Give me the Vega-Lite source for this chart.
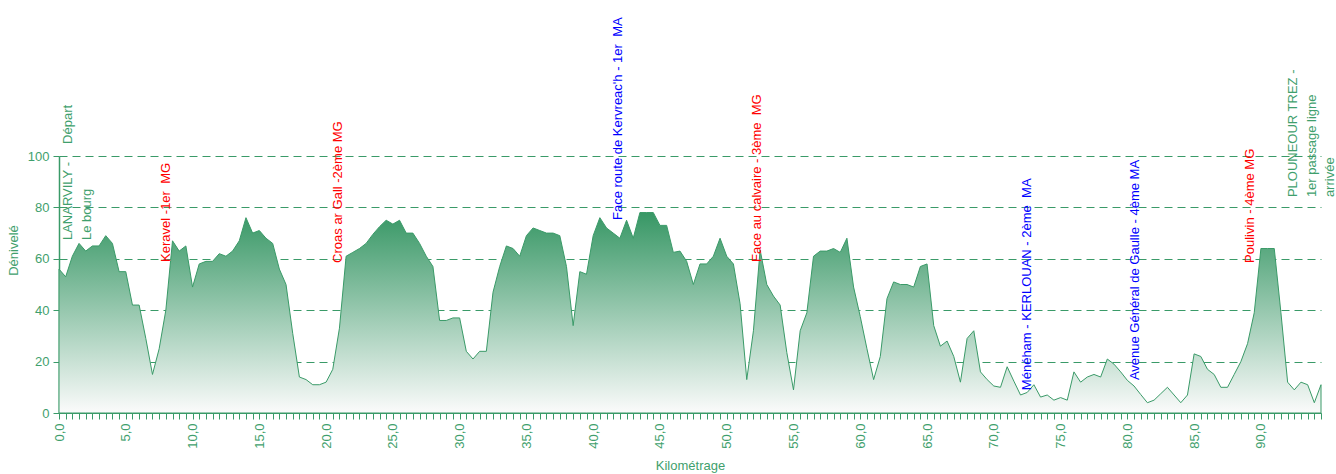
{
  "$schema": "https://vega.github.io/schema/vega-lite/v6.json",
  "autosize": "none",
  "width": 1262,
  "height": 257,
  "padding": {"left": 59, "top": 156, "right": 15, "bottom": 61},
  "config": {
    "view": {"stroke": null},
    "font": "Liberation Sans",
    "axis": {
      "labelFont": "Liberation Sans",
      "titleFont": "Liberation Sans",
      "labelFontSize": 13,
      "titleFontSize": 13,
      "titleFontWeight": "normal",
      "labelColor": "#3f9f6d",
      "titleColor": "#3f9f6d",
      "domainColor": "#3a9a68",
      "tickColor": "#3a9a68"
    }
  },
  "datasets": {
    "profil": [
      {"km": 0, "alt": 56}, {"km": 0.5, "alt": 53}, {"km": 1, "alt": 61}, {"km": 1.5, "alt": 66},
      {"km": 2, "alt": 63}, {"km": 2.5, "alt": 65}, {"km": 3, "alt": 65}, {"km": 3.5, "alt": 69},
      {"km": 4, "alt": 66}, {"km": 4.5, "alt": 55}, {"km": 5, "alt": 55}, {"km": 5.5, "alt": 42},
      {"km": 6, "alt": 42}, {"km": 6.5, "alt": 29}, {"km": 7, "alt": 15}, {"km": 7.5, "alt": 25},
      {"km": 8, "alt": 40}, {"km": 8.5, "alt": 67}, {"km": 9, "alt": 63}, {"km": 9.5, "alt": 65},
      {"km": 10, "alt": 49}, {"km": 10.5, "alt": 58}, {"km": 11, "alt": 59}, {"km": 11.5, "alt": 59},
      {"km": 12, "alt": 62}, {"km": 12.5, "alt": 61}, {"km": 13, "alt": 63}, {"km": 13.5, "alt": 67},
      {"km": 14, "alt": 76}, {"km": 14.5, "alt": 70}, {"km": 15, "alt": 71}, {"km": 15.5, "alt": 68},
      {"km": 16, "alt": 66}, {"km": 16.5, "alt": 56}, {"km": 17, "alt": 50}, {"km": 17.5, "alt": 31},
      {"km": 18, "alt": 14}, {"km": 18.5, "alt": 13}, {"km": 19, "alt": 11}, {"km": 19.5, "alt": 11},
      {"km": 20, "alt": 12}, {"km": 20.5, "alt": 17}, {"km": 21, "alt": 33}, {"km": 21.5, "alt": 61},
      {"km": 22, "alt": 62.5}, {"km": 22.5, "alt": 64}, {"km": 23, "alt": 66}, {"km": 23.5, "alt": 69.5},
      {"km": 24, "alt": 72.5}, {"km": 24.5, "alt": 75}, {"km": 25, "alt": 73.5}, {"km": 25.5, "alt": 75},
      {"km": 26, "alt": 70}, {"km": 26.5, "alt": 70}, {"km": 27, "alt": 66}, {"km": 27.5, "alt": 61},
      {"km": 28, "alt": 57}, {"km": 28.5, "alt": 36}, {"km": 29, "alt": 36}, {"km": 29.5, "alt": 37},
      {"km": 30, "alt": 37}, {"km": 30.5, "alt": 24}, {"km": 31, "alt": 21}, {"km": 31.5, "alt": 24},
      {"km": 32, "alt": 24}, {"km": 32.5, "alt": 47}, {"km": 33, "alt": 57}, {"km": 33.5, "alt": 65},
      {"km": 34, "alt": 64}, {"km": 34.5, "alt": 61}, {"km": 35, "alt": 69}, {"km": 35.5, "alt": 72},
      {"km": 36, "alt": 71}, {"km": 36.5, "alt": 70}, {"km": 37, "alt": 70}, {"km": 37.5, "alt": 69},
      {"km": 38, "alt": 57}, {"km": 38.5, "alt": 34}, {"km": 39, "alt": 55}, {"km": 39.5, "alt": 54},
      {"km": 40, "alt": 69}, {"km": 40.5, "alt": 76}, {"km": 41, "alt": 72}, {"km": 41.5, "alt": 70},
      {"km": 42, "alt": 68}, {"km": 42.5, "alt": 75}, {"km": 43, "alt": 68}, {"km": 43.5, "alt": 78},
      {"km": 44, "alt": 78}, {"km": 44.5, "alt": 78}, {"km": 45, "alt": 73}, {"km": 45.5, "alt": 73},
      {"km": 46, "alt": 62.5}, {"km": 46.5, "alt": 63}, {"km": 47, "alt": 59}, {"km": 47.5, "alt": 50},
      {"km": 48, "alt": 58}, {"km": 48.5, "alt": 58}, {"km": 49, "alt": 61}, {"km": 49.5, "alt": 68},
      {"km": 50, "alt": 61}, {"km": 50.5, "alt": 58}, {"km": 51, "alt": 42.5}, {"km": 51.5, "alt": 13},
      {"km": 52, "alt": 32}, {"km": 52.5, "alt": 63.5}, {"km": 53, "alt": 50}, {"km": 53.5, "alt": 45.5},
      {"km": 54, "alt": 42}, {"km": 54.5, "alt": 23.5}, {"km": 55, "alt": 9}, {"km": 55.5, "alt": 32},
      {"km": 56, "alt": 39}, {"km": 56.5, "alt": 61}, {"km": 57, "alt": 63}, {"km": 57.5, "alt": 63},
      {"km": 58, "alt": 64}, {"km": 58.5, "alt": 62.5}, {"km": 59, "alt": 68}, {"km": 59.5, "alt": 49},
      {"km": 60, "alt": 37.5}, {"km": 60.5, "alt": 25}, {"km": 61, "alt": 13}, {"km": 61.5, "alt": 22},
      {"km": 62, "alt": 44.5}, {"km": 62.5, "alt": 51}, {"km": 63, "alt": 50}, {"km": 63.5, "alt": 50},
      {"km": 64, "alt": 49}, {"km": 64.5, "alt": 57}, {"km": 65, "alt": 58}, {"km": 65.5, "alt": 34},
      {"km": 66, "alt": 26}, {"km": 66.5, "alt": 28}, {"km": 67, "alt": 22}, {"km": 67.5, "alt": 12},
      {"km": 68, "alt": 29}, {"km": 68.5, "alt": 32}, {"km": 69, "alt": 16}, {"km": 69.5, "alt": 13},
      {"km": 70, "alt": 10.5}, {"km": 70.5, "alt": 10}, {"km": 71, "alt": 18}, {"km": 71.5, "alt": 12.4},
      {"km": 72, "alt": 7}, {"km": 72.5, "alt": 8}, {"km": 73, "alt": 11}, {"km": 73.5, "alt": 6.2},
      {"km": 74, "alt": 7}, {"km": 74.5, "alt": 5}, {"km": 75, "alt": 6}, {"km": 75.5, "alt": 5},
      {"km": 76, "alt": 16}, {"km": 76.5, "alt": 12}, {"km": 77, "alt": 14}, {"km": 77.5, "alt": 15},
      {"km": 78, "alt": 14}, {"km": 78.5, "alt": 21}, {"km": 79, "alt": 19}, {"km": 79.5, "alt": 16},
      {"km": 80, "alt": 12.7}, {"km": 80.5, "alt": 10.5}, {"km": 81, "alt": 7.2}, {"km": 81.5, "alt": 4},
      {"km": 82, "alt": 5}, {"km": 82.5, "alt": 7.5}, {"km": 83, "alt": 10}, {"km": 83.5, "alt": 7},
      {"km": 84, "alt": 4}, {"km": 84.5, "alt": 7}, {"km": 85, "alt": 23}, {"km": 85.5, "alt": 22},
      {"km": 86, "alt": 17}, {"km": 86.5, "alt": 15}, {"km": 87, "alt": 10}, {"km": 87.5, "alt": 10},
      {"km": 88, "alt": 15}, {"km": 88.5, "alt": 20}, {"km": 89, "alt": 27}, {"km": 89.5, "alt": 39},
      {"km": 90, "alt": 64}, {"km": 90.5, "alt": 64}, {"km": 91, "alt": 64}, {"km": 91.5, "alt": 39},
      {"km": 92, "alt": 12}, {"km": 92.5, "alt": 9}, {"km": 93, "alt": 12}, {"km": 93.5, "alt": 11},
      {"km": 94, "alt": 4}, {"km": 94.5, "alt": 11}
    ],
    "reperes": [
      {"km": 0.7, "pos": 67.3, "type": "ville", "nom": "LANARVILY - \u00a0\u00a0\u00a0\u00a0Départ\nLe bourg"},
      {"km": 8.04, "pos": 58.8, "type": "MG", "nom": "Keravel -1er \u00a0MG"},
      {"km": 20.91, "pos": 58.4, "type": "MG", "nom": "Croas ar Gall -2ème MG"},
      {"km": 41.88, "pos": 75.1, "type": "MA", "nom": "Face route de Kervreac'h - 1er \u00a0MA"},
      {"km": 52.27, "pos": 58.8, "type": "MG", "nom": "Face au calvaire - 3ème \u00a0MG"},
      {"km": 72.48, "pos": 8.9, "type": "MA", "nom": "Ménéham - KERLOUAN - 2ème \u00a0MA"},
      {"km": 80.59, "pos": 12.8, "type": "MA", "nom": "Avenue Général de Gaulle - 4ème MA"},
      {"km": 89.15, "pos": 58.4, "type": "MG", "nom": "Poulivin - 4ème MG"},
      {"km": 92.42, "pos": 84, "type": "ville", "nom": "PLOUNEOUR TREZ -\n1er passage ligne\narrivée"}
    ]
  },
  "layer": [
    {
      "data": {"name": "profil"},
      "mark": {
        "type": "area",
        "stroke": "#3a9a68",
        "strokeWidth": 1,
        "fill": {
          "gradient": "linear",
          "x1": 0, "y1": 1, "x2": 0, "y2": 0,
          "stops": [
            {"offset": 0, "color": "#fbfbfb"},
            {"offset": 1, "color": "#379765"}
          ]
        }
      },
      "encoding": {
        "x": {
          "field": "km",
          "type": "quantitative",
          "title": "Kilométrage",
          "scale": {"domain": [0, 94.5], "nice": false, "zero": false},
          "axis": {
            "grid": false,
            "tickCount": 190,
            "tickSize": 6,
            "labelAngle": 270,
            "labelAlign": "right",
            "labelBaseline": "middle",
            "labelPadding": 4,
            "labelOverlap": false,
            "labelFlush": false,
            "labelExpr": "datum.value % 5 === 0 ? replace(format(datum.value, '.1f'), '.', ',') : ''",
            "titleY": 52,
            "titleBaseline": "middle"
          }
        },
        "y": {
          "field": "alt",
          "type": "quantitative",
          "title": "Dénivelé",
          "scale": {"domain": [0, 100], "nice": false},
          "axis": {
            "values": [0, 20, 40, 60, 80, 100],
            "domainWidth": 1.5,
            "tickSize": 6,
            "labelPadding": 4,
            "gridColor": "#3a9a68",
            "gridDash": [8, 5],
            "titleAngle": 270,
            "titleX": -46,
            "titleY": 94,
            "titleAlign": "center",
            "titleBaseline": "middle"
          }
        }
      }
    },
    {
      "data": {"name": "reperes"},
      "mark": {
        "type": "text",
        "angle": 270,
        "align": "left",
        "baseline": "middle",
        "font": "Liberation Sans",
        "fontSize": 13,
        "lineBreak": "\n",
        "lineHeight": 18.5
      },
      "encoding": {
        "x": {"field": "km", "type": "quantitative"},
        "y": {"field": "pos", "type": "quantitative"},
        "text": {"field": "nom"},
        "color": {
          "field": "type",
          "type": "nominal",
          "scale": {"domain": ["ville", "MG", "MA"], "range": ["#3f9f6d", "#ff0000", "#0000ff"]},
          "legend": null
        }
      }
    }
  ]
}
